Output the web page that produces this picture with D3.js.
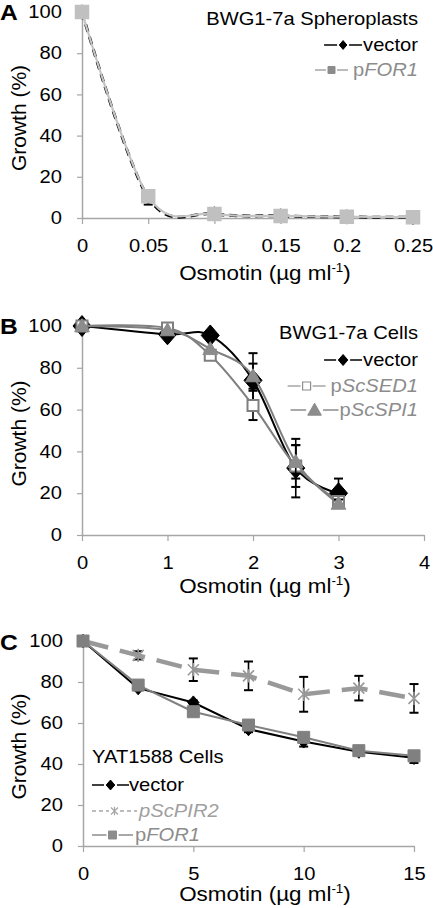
<!DOCTYPE html>
<html><head><meta charset="utf-8">
<script src="https://cdn.jsdelivr.net/npm/d3@7"></script>
<style>html,body{margin:0;padding:0;background:#fff;}svg{display:block;}</style>
</head><body>
<svg id="chart" width="433" height="908"></svg>
<script>
// ---------- DATA ----------
const yTicks = [0, 20, 40, 60, 80, 100];

// Panel A
const xA = [0, 0.05, 0.1, 0.15, 0.2, 0.25];
const xTicksA = [0, 0.05, 0.1, 0.15, 0.2, 0.25];
const xTickLabelsA = ["0", "0.05", "0.1", "0.15", "0.2", "0.25"];
const aVector = [100, 10, 2, 1, 0.5, 0.3];
const aVectorErr = [0, 3.5, 1, 0.5, 0.3, 0.3];
const aFOR1 = [100, 10.5, 2, 1, 0.6, 0.4];
const aFOR1Err = [0, 2, 0.5, 0.5, 0.3, 0.3];

// Panel B
const xB = [0, 1, 1.5, 2, 2.5, 3];
const xTicksB = [0, 1, 2, 3, 4];
const xTickLabelsB = ["0", "1", "2", "3", "4"];
const bVector = [100, 96, 95.5, 74, 32, 20];
const bVectorErr = [0, 0, 0, 13, 14, 7];
const bSED1 = [100, 99, 86, 62, 33, 16];
const bSED1Err = [0, 0, 0, 7, 10, 3];
const bSPI1 = [100, 98, 89, 76, 35, 15];
const bSPI1Err = [0, 0, 0, 6, 8, 2];

// Panel C
const xC = [0, 2.5, 5, 7.5, 10, 12.5, 15];
const xTicksC = [0, 5, 10, 15];
const xTickLabelsC = ["0", "5", "10", "15"];
const cVector = [100, 77, 70, 57, 51, 46, 43];
const cVectorErr = [0, 1, 1, 1.5, 2.5, 1.5, 2.5];
const cPIR2 = [100, 93, 86, 83, 74, 77, 72];
const cPIR2Err = [0, 2, 5.5, 7, 8.5, 6, 7];
const cFOR1 = [100, 78.5, 65.5, 59, 53, 46.5, 44];
const cFOR1Err = [0, 1, 1, 1, 1.5, 1, 1.5];

// ---------- DRAW ----------
const FONT = "'Liberation Sans', Arial, Helvetica, sans-serif";
const SX = 1.12; // horizontal stretch of the original figure's text
const svg = d3.select("#chart").style("font-family", FONT);

function stretch(sel, origin) {
  sel.style("transform-box", "fill-box").style("transform-origin", origin + " center").style("transform", `scaleX(${SX})`);
}

function markerPath(type, r) {
  const p = d3.path();
  if (type === "diamond") {
    p.moveTo(0, -r * 1.1); p.lineTo(r * 0.95, 0); p.lineTo(0, r * 1.1); p.lineTo(-r * 0.95, 0); p.closePath();
  } else if (type === "square") {
    p.rect(-r, -r, 2 * r, 2 * r);
  } else if (type === "triangle") {
    p.moveTo(0, -r * 1.05); p.lineTo(r * 1.05, r * 0.8); p.lineTo(-r * 1.05, r * 0.8); p.closePath();
  } else if (type === "star") {
    p.moveTo(-r, -r); p.lineTo(r, r); p.moveTo(r, -r); p.lineTo(-r, r); p.moveTo(0, -r * 1.2); p.lineTo(0, r * 1.2);
  }
  return p.toString();
}

function drawPanel(cfg) {
  const g = svg.append("g");
  const x = d3.scaleLinear().domain(cfg.xDomain).range([cfg.left, cfg.right]);
  const y = d3.scaleLinear().domain([0, 100]).range([cfg.bottom, cfg.top]);

  // y axis
  const yAx = g.append("g").attr("transform", `translate(${cfg.left},0)`)
    .call(d3.axisLeft(y).tickValues(yTicks).tickSize(5).tickSizeOuter(0).tickPadding(15));
  // x axis
  const xAx = g.append("g").attr("transform", `translate(0,${cfg.bottom})`)
    .call(d3.axisBottom(x).tickValues(cfg.xTicks).tickFormat((d, i) => cfg.xTickLabels[i]).tickSize(6).tickSizeOuter(0).tickPadding(15));
  [yAx, xAx].forEach(a => {
    a.select(".domain").attr("stroke", "#a6a6a6").attr("stroke-width", 1.5);
    a.selectAll(".tick line").attr("stroke", "#a6a6a6").attr("stroke-width", 1.2);
    a.selectAll(".tick text").attr("fill", "#000").style("font-size", "18px").style("font-family", FONT);
  });
  xAx.selectAll(".tick text").attr("dy", "0.71em");
  stretch(yAx.selectAll(".tick text"), "right");
  stretch(xAx.selectAll(".tick text"), "center");

  // y axis title
  g.append("text").attr("transform", `translate(${cfg.yTitleX},${(cfg.top + cfg.bottom) / 2 + 3}) rotate(-90)`)
    .attr("text-anchor", "middle").attr("dominant-baseline", "central").style("font-size", "21px").text("Growth (%)");
  // x axis title
  const xt = g.append("text").attr("x", cfg.xTitleX).attr("y", cfg.xTitleY).attr("text-anchor", "middle").style("font-size", "20px");
  xt.append("tspan").text("Osmotin (µg ml");
  xt.append("tspan").attr("dy", -8).style("font-size", "12px").text("-1");
  xt.append("tspan").attr("dy", 8).text(")");
  stretch(xt, "center");
  // panel letter
  const lt = g.append("text").attr("x", 0).attr("y", cfg.letterY).style("font-size", "22px").style("font-weight", "bold").text(cfg.letter);
  stretch(lt, "left");

  // series
  cfg.series.forEach(s => {
    const pts = cfg.xs.map((xv, i) => [x(xv), y(s.values[i])]);
    const line = d3.line().curve(cfg.smooth ? d3.curveCardinal.tension(0) : d3.curveLinear);
    g.append("path").attr("d", line(pts)).attr("fill", "none").attr("stroke", s.lineColor)
      .attr("stroke-width", s.lineWidth).attr("stroke-dasharray", s.dash || null).attr("stroke-linejoin", "round");
    // error bars
    cfg.xs.forEach((xv, i) => {
      const e = s.err[i];
      if (!e) return;
      const cx = x(xv), y1 = y(s.values[i] + e), y2 = y(s.values[i] - e);
      g.append("line").attr("x1", cx).attr("x2", cx).attr("y1", y1).attr("y2", y2).attr("stroke", "#000").attr("stroke-width", 1.6);
      [y1, y2].forEach(yy => g.append("line").attr("x1", cx - 4.5).attr("x2", cx + 4.5).attr("y1", yy).attr("y2", yy).attr("stroke", "#000").attr("stroke-width", 2));
    });
    // markers
    cfg.xs.forEach((xv, i) => {
      g.append("path").attr("d", markerPath(s.marker, s.r)).attr("transform", `translate(${x(xv)},${y(s.values[i])})`)
        .attr("fill", s.fill).attr("stroke", s.stroke).attr("stroke-width", s.strokeWidth || 1);
    });
  });

  // legend
  cfg.legend.forEach(L => {
    const t = g.append("text").attr("y", L.y).style("font-size", "18px").attr("fill", L.textColor);
    L.parts.forEach(p => t.append("tspan").style("font-style", p.italic ? "italic" : "normal").text(p.t));
    let tx;
    if (L.anchor === "end") {
      const w = t.node().getComputedTextLength() * SX;
      tx = L.right - w;
    } else {
      tx = L.textX;
    }
    t.attr("x", tx);
    stretch(t, "left");
    if (L.symbol) {
      const S = L.symbol;
      const ly = L.y - 6;
      const x1 = tx - S.gap - S.width, x2 = tx - S.gap;
      g.append("line").attr("x1", x1).attr("x2", x2).attr("y1", ly).attr("y2", ly).attr("stroke", S.lineColor)
        .attr("stroke-width", S.lineWidth).attr("stroke-dasharray", S.dash || null);
      g.append("rect").attr("x", (x1 + x2) / 2 - S.r - 2).attr("y", ly - S.r - 2).attr("width", 2 * S.r + 4).attr("height", 2 * S.r + 4).attr("fill", "#fff");
      g.append("path").attr("d", markerPath(S.marker, S.r)).attr("transform", `translate(${(x1 + x2) / 2},${ly})`)
        .attr("fill", S.fill).attr("stroke", S.stroke).attr("stroke-width", S.strokeWidth || 1);
    }
  });
}

// Panel A
drawPanel({
  letter: "A", letterY: 20, xDomain: [0, 0.25], left: 82, right: 413, top: 12, bottom: 218,
  xTicks: xTicksA, xTickLabels: xTickLabelsA, xs: xA, smooth: true,
  yTitleX: 18, xTitleX: 265, xTitleY: 280,
  series: [
    { values: aVector, err: aVectorErr, lineColor: "#000", lineWidth: 3, dash: "8,5", marker: "diamond", r: 6.5, fill: "#000", stroke: "#000" },
    { values: aFOR1, err: aFOR1Err.map(() => 0), lineColor: "#c4c4c4", lineWidth: 2.2, marker: "square", r: 6.5, fill: "#c0c0c0", stroke: "#c0c0c0", strokeWidth: 1.5 }
  ],
  legend: [
    { y: 25, right: 418, anchor: "end", textColor: "#000", parts: [{ t: "BWG1-7a Spheroplasts" }] },
    { y: 51, right: 418, anchor: "end", textColor: "#000", parts: [{ t: "vector" }],
      symbol: { width: 38, gap: 1, lineColor: "#000", lineWidth: 1.5, marker: "diamond", r: 4, fill: "#000", stroke: "#000" } },
    { y: 76, right: 418, anchor: "end", textColor: "#8c8c8c", parts: [{ t: "p" }, { t: "FOR1", italic: true }],
      symbol: { width: 33, gap: 5, lineColor: "#a6a6a6", lineWidth: 1.5, marker: "square", r: 3.5, fill: "#8c8c8c", stroke: "#8c8c8c" } }
  ]
});

// Panel B
drawPanel({
  letter: "B", letterY: 334, xDomain: [0, 4], left: 82, right: 424, top: 326, bottom: 535,
  xTicks: xTicksB, xTickLabels: xTickLabelsB, xs: xB, smooth: true,
  yTitleX: 18, xTitleX: 265, xTitleY: 593,
  series: [
    { values: bVector, err: bVectorErr, lineColor: "#000", lineWidth: 2, marker: "diamond", r: 9.5, fill: "#000", stroke: "#000" },
    { values: bSED1, err: bSED1Err, lineColor: "#7f7f7f", lineWidth: 2, marker: "square", r: 5.5, fill: "#fff", stroke: "#7f7f7f", strokeWidth: 2 },
    { values: bSPI1, err: bSPI1Err, lineColor: "#7f7f7f", lineWidth: 2, marker: "triangle", r: 7, fill: "#8c8c8c", stroke: "#8c8c8c" }
  ],
  legend: [
    { y: 339, right: 418, anchor: "end", textColor: "#000", parts: [{ t: "BWG1-7a Cells" }] },
    { y: 366, right: 418, anchor: "end", textColor: "#000", parts: [{ t: " vector" }],
      symbol: { width: 38, gap: 1, lineColor: "#000", lineWidth: 1.5, marker: "diamond", r: 5, fill: "#000", stroke: "#000" } },
    { y: 392, right: 418, anchor: "end", textColor: "#8c8c8c", parts: [{ t: "p" }, { t: "ScSED1", italic: true }],
      symbol: { width: 38, gap: 5, lineColor: "#a6a6a6", lineWidth: 1.5, marker: "square", r: 4, fill: "#fff", stroke: "#8c8c8c", strokeWidth: 1.2 } },
    { y: 416, right: 418, anchor: "end", textColor: "#8c8c8c", parts: [{ t: "p" }, { t: "ScSPI1", italic: true }],
      symbol: { width: 48, gap: 1, lineColor: "#8c8c8c", lineWidth: 1.5, marker: "triangle", r: 6.5, fill: "#8c8c8c", stroke: "#8c8c8c" } }
  ]
});

// Panel C
drawPanel({
  letter: "C", letterY: 650, xDomain: [0, 15], left: 83, right: 414, top: 641, bottom: 846,
  xTicks: xTicksC, xTickLabels: xTickLabelsC, xs: xC, smooth: false,
  yTitleX: 18, xTitleX: 265, xTitleY: 901,
  series: [
    { values: cPIR2, err: cPIR2Err, lineColor: "#999", lineWidth: 4.5, dash: "26,12", marker: "star", r: 5.5, fill: "none", stroke: "#999", strokeWidth: 1.6 },
    { values: cVector, err: cVectorErr, lineColor: "#000", lineWidth: 2, marker: "diamond", r: 6, fill: "#000", stroke: "#000" },
    { values: cFOR1, err: cFOR1Err.map(() => 0), lineColor: "#808080", lineWidth: 2, marker: "square", r: 6, fill: "#808080", stroke: "#808080" }
  ],
  legend: [
    { y: 763, textX: 92, anchor: "start", textColor: "#000", parts: [{ t: "YAT1588 Cells" }] },
    { y: 791, textX: 129, anchor: "start", textColor: "#000", parts: [{ t: "vector" }],
      symbol: { width: 37, gap: 0, lineColor: "#000", lineWidth: 1.5, marker: "diamond", r: 4.5, fill: "#000", stroke: "#000" } },
    { y: 817, textX: 139, anchor: "start", textColor: "#a0a0a0", parts: [{ t: "pScPIR2", italic: true }],
      symbol: { width: 45, gap: 2, lineColor: "#a6a6a6", lineWidth: 1.5, dash: "4,3", marker: "star", r: 3.5, fill: "none", stroke: "#a6a6a6", strokeWidth: 1.2 } },
    { y: 841, textX: 135, anchor: "start", textColor: "#8c8c8c", parts: [{ t: "p" }, { t: "FOR1", italic: true }],
      symbol: { width: 41, gap: 2, lineColor: "#8c8c8c", lineWidth: 1.5, marker: "square", r: 4, fill: "#8c8c8c", stroke: "#8c8c8c" } }
  ]
});
</script>
</body></html>
